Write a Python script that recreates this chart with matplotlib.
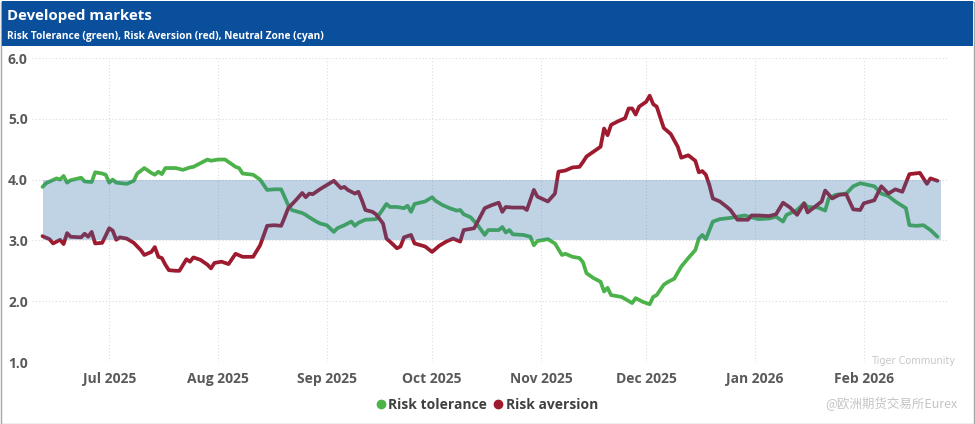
import matplotlib
matplotlib.use("Agg")
import matplotlib.pyplot as plt
import matplotlib.dates as mdates
from matplotlib.patches import Rectangle
from matplotlib.lines import Line2D
import pandas as pd

# ---------------- data ----------------
tol_dates = ["2025-06-12","2025-06-13","2025-06-16","2025-06-17","2025-06-18","2025-06-19","2025-06-20",
             "2025-06-23","2025-06-24","2025-06-26","2025-06-27","2025-06-29","2025-06-30","2025-07-01",
             "2025-07-02","2025-07-03","2025-07-06","2025-07-08","2025-07-09","2025-07-11","2025-07-13",
             "2025-07-14","2025-07-15","2025-07-16","2025-07-17","2025-07-20","2025-07-22","2025-07-24",
             "2025-07-25","2025-07-27","2025-07-29","2025-07-30","2025-08-01","2025-08-03","2025-08-06",
             "2025-08-07","2025-08-08","2025-08-11","2025-08-13","2025-08-15","2025-08-17","2025-08-19",
             "2025-08-21","2025-08-22","2025-08-25","2025-08-26","2025-08-27","2025-08-29","2025-08-30",
             "2025-09-01","2025-09-03","2025-09-04","2025-09-06","2025-09-08","2025-09-09","2025-09-10",
             "2025-09-12","2025-09-15","2025-09-16","2025-09-18","2025-09-19","2025-09-21","2025-09-23",
             "2025-09-24","2025-09-25","2025-09-26","2025-09-29","2025-10-01","2025-10-02","2025-10-04",
             "2025-10-06","2025-10-08","2025-10-09","2025-10-10","2025-10-12","2025-10-14","2025-10-16",
             "2025-10-17","2025-10-20","2025-10-21","2025-10-22","2025-10-23","2025-10-24","2025-10-27",
             "2025-10-29","2025-10-30","2025-10-31","2025-11-03","2025-11-05","2025-11-07","2025-11-08",
             "2025-11-10","2025-11-12","2025-11-13","2025-11-14","2025-11-16","2025-11-18","2025-11-19",
             "2025-11-20","2025-11-21","2025-11-24","2025-11-27","2025-11-28","2025-11-30","2025-12-02",
             "2025-12-03","2025-12-04","2025-12-06","2025-12-07","2025-12-09","2025-12-11","2025-12-13",
             "2025-12-15","2025-12-16","2025-12-17","2025-12-18","2025-12-20","2025-12-22","2025-12-25",
             "2025-12-29","2026-01-02","2026-01-05","2026-01-07","2026-01-09","2026-01-10","2026-01-13",
             "2026-01-15","2026-01-16","2026-01-19","2026-01-21","2026-01-22","2026-01-24","2026-01-27",
             "2026-01-29","2026-01-31","2026-02-04","2026-02-06","2026-02-08","2026-02-10","2026-02-13",
             "2026-02-14","2026-02-16","2026-02-18","2026-02-20","2026-02-22"]
tol_values = [3.88,3.94,4.02,4.00,4.06,3.95,3.99,
              4.03,3.97,3.96,4.12,4.10,4.08,3.95,
              4.00,3.95,3.93,3.98,4.10,4.19,4.11,
              4.08,4.13,4.09,4.19,4.19,4.16,4.20,
              4.21,4.27,4.33,4.31,4.33,4.33,4.21,
              4.19,4.10,4.08,4.00,3.83,3.84,3.84,
              3.58,3.50,3.45,3.42,3.38,3.31,3.28,
              3.25,3.14,3.20,3.25,3.31,3.24,3.29,
              3.34,3.35,3.43,3.60,3.55,3.55,3.53,
              3.57,3.47,3.60,3.64,3.71,3.65,3.58,
              3.53,3.49,3.50,3.43,3.38,3.25,3.09,
              3.17,3.17,3.22,3.13,3.17,3.10,3.09,
              3.06,2.92,2.99,3.02,2.95,2.76,2.78,
              2.73,2.71,2.64,2.46,2.38,2.32,2.16,
              2.22,2.10,2.07,1.97,2.05,1.99,1.95,
              2.07,2.10,2.27,2.31,2.37,2.57,2.71,
              2.84,3.03,3.09,3.02,3.31,3.35,3.37,
              3.41,3.35,3.36,3.39,3.31,3.42,3.50,
              3.61,3.55,3.54,3.49,3.69,3.75,3.77,
              3.89,3.94,3.89,3.77,3.73,3.64,3.53,
              3.25,3.24,3.25,3.17,3.06]

ave_dates = ["2025-06-12","2025-06-14","2025-06-15","2025-06-17","2025-06-18","2025-06-19","2025-06-20",
             "2025-06-23","2025-06-24","2025-06-25","2025-06-26","2025-06-27","2025-06-29","2025-07-01",
             "2025-07-02","2025-07-03","2025-07-04","2025-07-06","2025-07-08","2025-07-10","2025-07-11",
             "2025-07-13","2025-07-14","2025-07-15","2025-07-16","2025-07-17","2025-07-18","2025-07-20",
             "2025-07-21","2025-07-23","2025-07-24","2025-07-25","2025-07-27","2025-07-29","2025-07-30",
             "2025-07-31","2025-08-02","2025-08-04","2025-08-06","2025-08-08","2025-08-11","2025-08-13",
             "2025-08-15","2025-08-17","2025-08-19","2025-08-20","2025-08-21","2025-08-23","2025-08-25",
             "2025-08-26","2025-08-27","2025-08-28","2025-08-30","2025-09-01","2025-09-03","2025-09-05",
             "2025-09-06","2025-09-07","2025-09-09","2025-09-10","2025-09-11","2025-09-12","2025-09-14",
             "2025-09-15","2025-09-17","2025-09-18","2025-09-19","2025-09-21","2025-09-22","2025-09-23",
             "2025-09-25","2025-09-26","2025-09-29","2025-10-01","2025-10-03","2025-10-05","2025-10-07",
             "2025-10-09","2025-10-10","2025-10-13","2025-10-14","2025-10-16","2025-10-18","2025-10-20",
             "2025-10-21","2025-10-22","2025-10-24","2025-10-27","2025-10-28","2025-10-30","2025-10-31",
             "2025-11-03","2025-11-05","2025-11-06","2025-11-08","2025-11-10","2025-11-12","2025-11-13",
             "2025-11-14","2025-11-16","2025-11-18","2025-11-19","2025-11-20","2025-11-21","2025-11-23",
             "2025-11-25","2025-11-26","2025-11-27","2025-11-28","2025-11-29","2025-12-01","2025-12-02",
             "2025-12-03","2025-12-04","2025-12-06","2025-12-07","2025-12-08","2025-12-10","2025-12-11",
             "2025-12-13","2025-12-15","2025-12-16","2025-12-17","2025-12-18","2025-12-19","2025-12-20",
             "2025-12-22","2025-12-24","2025-12-25","2025-12-27","2025-12-30","2025-12-31","2026-01-02",
             "2026-01-05","2026-01-07","2026-01-09","2026-01-11","2026-01-13","2026-01-15","2026-01-16",
             "2026-01-18","2026-01-20","2026-01-21","2026-01-23","2026-01-25","2026-01-27","2026-01-29",
             "2026-01-31","2026-02-01","2026-02-04","2026-02-06","2026-02-08","2026-02-10","2026-02-12",
             "2026-02-14","2026-02-17","2026-02-19","2026-02-20","2026-02-22"]
ave_values = [3.07,3.02,2.95,3.01,2.94,3.12,3.06,
              3.05,3.11,3.06,3.14,2.95,2.96,3.20,
              3.16,3.01,3.05,3.03,2.96,2.84,2.76,
              2.81,2.89,2.73,2.71,2.60,2.51,2.50,
              2.50,2.69,2.65,2.72,2.68,2.60,2.54,
              2.63,2.65,2.61,2.78,2.73,2.73,2.92,
              3.24,3.25,3.24,3.38,3.53,3.65,3.78,
              3.71,3.77,3.76,3.84,3.91,3.98,3.86,
              3.88,3.83,3.77,3.80,3.66,3.50,3.47,
              3.43,3.28,3.03,2.98,2.87,2.90,3.05,
              3.09,2.95,2.90,2.81,2.91,2.98,3.03,
              2.98,3.17,3.20,3.31,3.53,3.58,3.62,
              3.47,3.55,3.54,3.54,3.50,3.83,3.72,
              3.64,3.77,4.13,4.15,4.20,4.21,4.29,
              4.38,4.46,4.54,4.84,4.73,4.90,4.96,
              5.01,5.17,5.17,5.07,5.20,5.28,5.38,
              5.24,5.20,4.85,4.80,4.75,4.54,4.36,
              4.40,4.31,4.12,4.14,4.08,3.91,3.69,
              3.64,3.55,3.50,3.34,3.34,3.41,3.41,
              3.40,3.43,3.62,3.54,3.42,3.61,3.46,
              3.55,3.64,3.82,3.69,3.75,3.76,3.51,
              3.50,3.61,3.66,3.89,3.77,3.84,3.80,
              4.09,4.11,3.93,4.02,3.98]

band_dates = ["2025-06-12", "2026-02-23"]
band_low = [3.0, 3.0]
band_high = [4.0, 4.0]

title = "Developed markets"
subtitle = "Risk Tolerance (green), Risk Aversion (red), Neutral Zone (cyan)"
series_names = ["Risk tolerance", "Risk aversion"]
y_ticks = [1.0, 2.0, 3.0, 4.0, 5.0, 6.0]
month_ticks = ["2025-07-01", "2025-08-01", "2025-09-01", "2025-10-01",
               "2025-11-01", "2025-12-01", "2026-01-01", "2026-02-01"]

# ---------------- style ----------------
GREEN = "#4cb24a"
RED = "#9e1b2f"
BAND = "#2d70ac"
TXT = "#595959"
FONT = "Open Sans"

plt.rcParams["font.family"] = [FONT, "DejaVu Sans"]

W, H = 975, 424
fig = plt.figure(figsize=(W / 100, H / 100), dpi=100)
fig.patch.set_facecolor("white")

# outer border and title bar
fig.patches.append(Rectangle((0.5 / W, 0.5 / H), (W - 2) / W, (H - 2) / H, transform=fig.transFigure,
                             fill=False, edgecolor="#a6a6a6", linewidth=1.0))
fig.patches.append(Rectangle((1.5 / W, 1 - 46 / H), (W - 4) / W, 45.5 / H, transform=fig.transFigure,
                             facecolor="#0a4f9c", edgecolor="none"))
fig.text(7 / W, 1 - 16 / H, title, color="white", fontsize=10.8, fontweight="bold", va="center", ha="left")
fig.text(7 / W, 1 - 36 / H, subtitle, color="white", fontsize=7.3, fontweight="bold", va="center", ha="left")

ax = fig.add_axes([32 / W, 1 - 362 / H, (948 - 32) / W, (362 - 58) / H])
td = pd.to_datetime(tol_dates)
adates = pd.to_datetime(ave_dates)
bd = pd.to_datetime(band_dates)

ax.plot(td, tol_values, color=GREEN, linewidth=2.7, solid_joinstyle="round", solid_capstyle="round", zorder=2)
ax.plot(adates, ave_values, color=RED, linewidth=2.7, solid_joinstyle="round", solid_capstyle="round", zorder=2.1)
ax.fill_between(bd, band_low, band_high, color=BAND, alpha=0.3, linewidth=0, zorder=3)

ax.set_ylim(1.0, 6.0)
ax.set_xlim(pd.Timestamp("2025-06-09"), pd.Timestamp("2026-02-25"))
ax.set_yticks(y_ticks)
ax.set_yticklabels([f"{v:.1f}" for v in y_ticks])
ax.set_xticks([pd.Timestamp(d) for d in month_ticks])
ax.xaxis.set_major_formatter(mdates.DateFormatter("%b %Y"))

for s in ax.spines.values():
    s.set_visible(False)
ax.tick_params(axis="both", length=0, labelsize=10, labelcolor=TXT)
ax.tick_params(axis="y", pad=3)
ax.tick_params(axis="x", pad=7)
for lab in ax.get_xticklabels() + ax.get_yticklabels():
    lab.set_fontweight("bold")
ax.grid(True, which="major", axis="both", color="#dcdcdc", linestyle=(0, (1, 2)), linewidth=0.8, zorder=0)
ax.set_axisbelow(True)

handles = [Line2D([], [], linestyle="none", marker="o", markersize=6, color=GREEN),
           Line2D([], [], linestyle="none", marker="o", markersize=6, color=RED)]
leg = fig.legend(handles, series_names, loc="center", bbox_to_anchor=(486 / W, 1 - 405 / H), ncol=2,
                 frameon=False, handletextpad=0.05, columnspacing=0.3, handlelength=1.0,
                 prop={"family": [FONT, "DejaVu Sans"], "weight": "bold", "size": 10})
for t in leg.get_texts():
    t.set_color("#404040")

# watermark
fig.text(955 / W, 1 - 361 / H, "Tiger Community", color="#c8c8c8", fontsize=7, ha="right", va="center",
         family=["DejaVu Sans"])
fig.text(958 / W, 1 - 404 / H, "@欧洲期货交易所Eurex", color="#c4c4c4", fontsize=9, ha="right", va="center",
         family=["Noto Sans CJK SC", "DejaVu Sans"])

fig.savefig("out.png", dpi=100, facecolor="white")
